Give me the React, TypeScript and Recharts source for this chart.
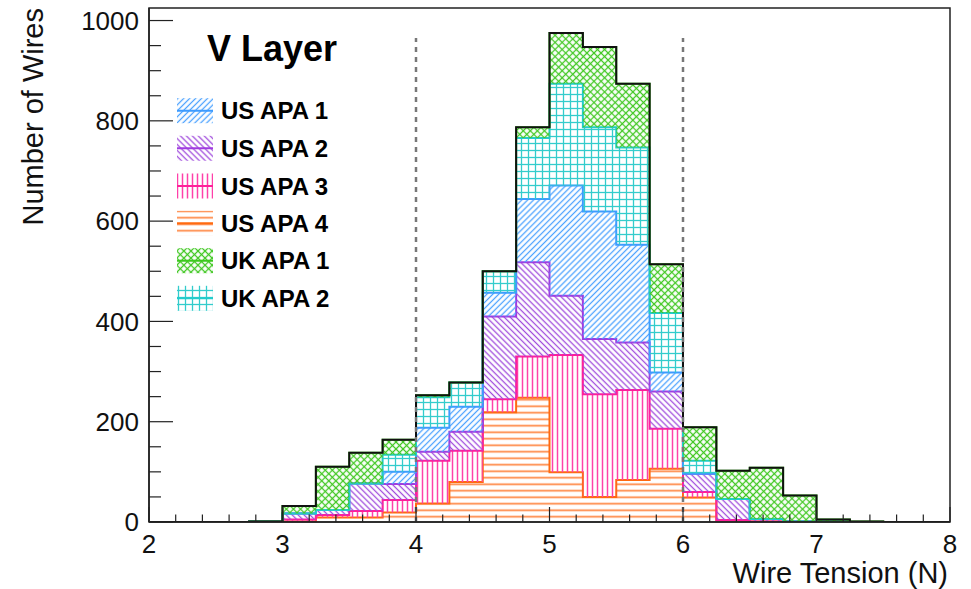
import React from 'react';
import { ComposedChart, Area, Line, XAxis, YAxis, ReferenceLine, ReferenceArea } from 'recharts';

// wire tension bins, 0.25 N wide, left edges from 2.00 to 7.75 N
const BIN_EDGES = [2, 2.25, 2.5, 2.75, 3, 3.25, 3.5, 3.75, 4, 4.25, 4.5, 4.75, 5, 5.25, 5.5, 5.75, 6, 6.25, 6.5, 6.75, 7, 7.25, 7.5, 7.75];
const X_MAX = 8;

// wire counts per bin for each APA (stack order: bottom to top)
const US_APA_4 = [0, 0, 0, 1, 1, 9, 9, 19, 37, 80, 219, 248, 99, 50, 84, 106, 49, 3, 1, 1, 1, 0, 0, 0];
const US_APA_3 = [0, 0, 0, 0, 4, 5, 13, 25, 85, 62, 26, 82, 234, 205, 179, 80, 11, 1, 0, 0, 0, 0, 0, 0];
const US_APA_2 = [0, 0, 0, 0, 12, 10, 55, 32, 18, 38, 165, 188, 118, 110, 95, 74, 36, 42, 5, 0, 0, 0, 0, 0];
const US_APA_1 = [0, 0, 0, 0, 0, 0, 0, 24, 48, 50, 47, 126, 220, 254, 195, 38, 0, 0, 0, 0, 0, 0, 0, 0];
const UK_APA_2 = [0, 0, 0, 0, 0, 0, 0, 34, 61, 48, 43, 122, 203, 168, 194, 119, 26, 0, 0, 0, 0, 0, 0, 0];
const UK_APA_1 = [0, 0, 0, 0, 15, 86, 61, 30, 4, 0, 0, 21, 101, 160, 127, 97, 67, 56, 102, 52, 4, 1, 0, 0];

const X_TICKS = [2, 2.2, 2.4, 2.6, 2.8, 3, 3.2, 3.4, 3.6, 3.8, 4, 4.2, 4.4, 4.6, 4.8, 5, 5.2, 5.4, 5.6, 5.8, 6, 6.2, 6.4, 6.6, 6.8, 7, 7.2, 7.4, 7.6, 7.8, 8];
const Y_TICKS = [0, 50, 100, 150, 200, 250, 300, 350, 400, 450, 500, 550, 600, 650, 700, 750, 800, 850, 900, 950, 1000];
const Y_MAX = 1025;
const CUT_LINES = [4, 6];
const CUT_TOP = 965;

const W = 971;
const H = 589;
const PLOT_LEFT = 149;
const PLOT_BOTTOM = 522;
const FONT = '"Liberation Sans", Arial, Helvetica, sans-serif';

const SERIES = [
  { key: 'us4', name: 'US APA 4', values: US_APA_4, line: '#ff6a10', pat: 'pat-us4' },
  { key: 'us3', name: 'US APA 3', values: US_APA_3, line: '#ff1f9a', pat: 'pat-us3' },
  { key: 'us2', name: 'US APA 2', values: US_APA_2, line: '#a03be0', pat: 'pat-us2' },
  { key: 'us1', name: 'US APA 1', values: US_APA_1, line: '#3d9bff', pat: 'pat-us1' },
  { key: 'uk2', name: 'UK APA 2', values: UK_APA_2, line: '#22cccc', pat: 'pat-uk2' },
  { key: 'uk1', name: 'UK APA 1', values: UK_APA_1, line: '#3cc81e', pat: 'pat-uk1' },
];

const LEGEND_ORDER = ['us1', 'us2', 'us3', 'us4', 'uk1', 'uk2'];

// one row per bin edge, plus a closing point at 8 N so the last step is drawn
const rows = [...BIN_EDGES, X_MAX].map((x, i) => {
  const j = Math.min(i, BIN_EDGES.length - 1);
  const row: Record<string, number> = { x };
  let total = 0;
  SERIES.forEach((s) => {
    row[s.key] = s.values[j];
    total += s.values[j];
  });
  row.total = total;
  return row;
});

const XTick = (props: any) => {
  const { x, payload } = props;
  const v = payload.value as number;
  const major = Math.abs(v - Math.round(v)) < 1e-6;
  return (
    <g>
      <line x1={x} x2={x} y1={PLOT_BOTTOM} y2={PLOT_BOTTOM - (major ? 15 : 7.5)} stroke="#222" strokeWidth={1.2} />
      {major && (
        <text x={x} y={553} textAnchor="middle" fontSize={26} fontFamily={FONT} fill="#111">
          {Math.round(v)}
        </text>
      )}
    </g>
  );
};

const YTick = (props: any) => {
  const { y, payload } = props;
  const v = payload.value as number;
  const major = v % 200 === 0;
  return (
    <g>
      <line x1={PLOT_LEFT} x2={PLOT_LEFT + (major ? 24 : 12)} y1={y} y2={y} stroke="#222" strokeWidth={1.2} />
      {major && (
        <text x={139} y={y + 9.3} textAnchor="end" fontSize={26} fontFamily={FONT} fill="#111">
          {v}
        </text>
      )}
    </g>
  );
};

const Patterns = () => (
  <defs>
    <pattern id="pat-us1" patternUnits="userSpaceOnUse" width={4.2} height={4.2} patternTransform="rotate(45)">
      <line x1={2.1} y1={0} x2={2.1} y2={4.2} stroke="#4da3ff" strokeWidth={1.3} />
    </pattern>
    <pattern id="pat-us2" patternUnits="userSpaceOnUse" width={4.2} height={4.2} patternTransform="rotate(-45)">
      <line x1={2.1} y1={0} x2={2.1} y2={4.2} stroke="#a04ddc" strokeWidth={1.3} />
    </pattern>
    <pattern id="pat-us3" patternUnits="userSpaceOnUse" width={5} height={5}>
      <line x1={2.5} y1={0} x2={2.5} y2={5} stroke="#ff40aa" strokeWidth={1.5} />
    </pattern>
    <pattern id="pat-us4" patternUnits="userSpaceOnUse" width={6.5} height={6.5}>
      <line x1={0} y1={3.25} x2={6.5} y2={3.25} stroke="#ff8540" strokeWidth={1.7} />
    </pattern>
    <pattern id="pat-uk1" patternUnits="userSpaceOnUse" width={5} height={5} patternTransform="rotate(45)">
      <line x1={2.5} y1={0} x2={2.5} y2={5} stroke="#42c824" strokeWidth={1.3} />
      <line x1={0} y1={2.5} x2={5} y2={2.5} stroke="#42c824" strokeWidth={1.3} />
    </pattern>
    <pattern id="pat-uk2" patternUnits="userSpaceOnUse" width={7} height={7}>
      <line x1={3.5} y1={0} x2={3.5} y2={7} stroke="#33cccc" strokeWidth={1.3} />
      <line x1={0} y1={3.5} x2={7} y2={3.5} stroke="#33cccc" strokeWidth={1.3} />
    </pattern>
  </defs>
);

const LEGEND_Y = [110.7, 148.3, 186, 223.3, 260.7, 298.3];

const Overlay = () => (
  <svg width={W} height={H} style={{ position: 'absolute', left: 0, top: 0, pointerEvents: 'none' }}>
    <Patterns />
    <text x={207} y={61} fontSize={36} fontWeight="bold" fontFamily={FONT} fill="#000">
      V Layer
    </text>
    {LEGEND_ORDER.map((k, i) => {
      const s = SERIES.find((d) => d.key === k)!;
      const cy = LEGEND_Y[i];
      return (
        <g key={k}>
          <rect x={177} y={cy - 12.5} width={36} height={25} fill={`url(#${s.pat})`} />
          <line x1={177} x2={213} y1={cy} y2={cy} stroke={s.line} strokeWidth={2} />
          <text x={221} y={cy + 8.5} fontSize={24} fontWeight="bold" fontFamily={FONT} fill="#000">
            {s.name}
          </text>
        </g>
      );
    })}
    <text transform="translate(43, 8) rotate(-90)" textAnchor="end" fontSize={29} fontFamily={FONT} fill="#111">
      Number of Wires
    </text>
    <text x={948} y={583} textAnchor="end" fontSize={29} fontFamily={FONT} fill="#111">
      Wire Tension (N)
    </text>
  </svg>
);

export default function App() {
  return (
    <div style={{ position: 'absolute', left: 0, top: 0, width: W, height: H, background: '#fff' }}>
      <Overlay />
      <div style={{ position: 'absolute', left: 0, top: 0 }}>
        <ComposedChart width={W} height={H} data={rows} margin={{ top: 8, right: 21, bottom: 27, left: 49 }}>
          {SERIES.map((s) => (
            <Area
              key={s.key}
              type="stepAfter"
              dataKey={s.key}
              name={s.name}
              stackId="apa"
              stroke={s.line}
              strokeWidth={2}
              fill={`url(#${s.pat})`}
              fillOpacity={1}
              dot={false}
              activeDot={false}
              isAnimationActive={false}
            />
          ))}
          <Line type="stepAfter" dataKey="total" stroke="#111" strokeWidth={2} dot={false} activeDot={false} isAnimationActive={false} />
          {CUT_LINES.map((c) => (
            <ReferenceLine
              key={c}
              segment={[{ x: c, y: 0 }, { x: c, y: CUT_TOP }]}
              stroke="#777"
              strokeWidth={2.5}
              strokeDasharray="5 5"
            />
          ))}
          <XAxis
            type="number"
            dataKey="x"
            domain={[2, X_MAX]}
            ticks={X_TICKS}
            interval={0}
            tick={(p: any) => <XTick {...p} />}
            tickLine={false}
            axisLine={{ stroke: '#222', strokeWidth: 1.5 }}
            height={40}
            allowDataOverflow
          />
          <YAxis
            type="number"
            domain={[0, Y_MAX]}
            ticks={Y_TICKS}
            interval={0}
            tick={(p: any) => <YTick {...p} />}
            tickLine={false}
            axisLine={{ stroke: '#222', strokeWidth: 1.5 }}
            width={100}
            allowDataOverflow
          />
          <ReferenceArea x1={2} x2={X_MAX} y1={0} y2={Y_MAX} fill="none" stroke="#222" strokeWidth={1.5} />
        </ComposedChart>
      </div>
    </div>
  );
}
